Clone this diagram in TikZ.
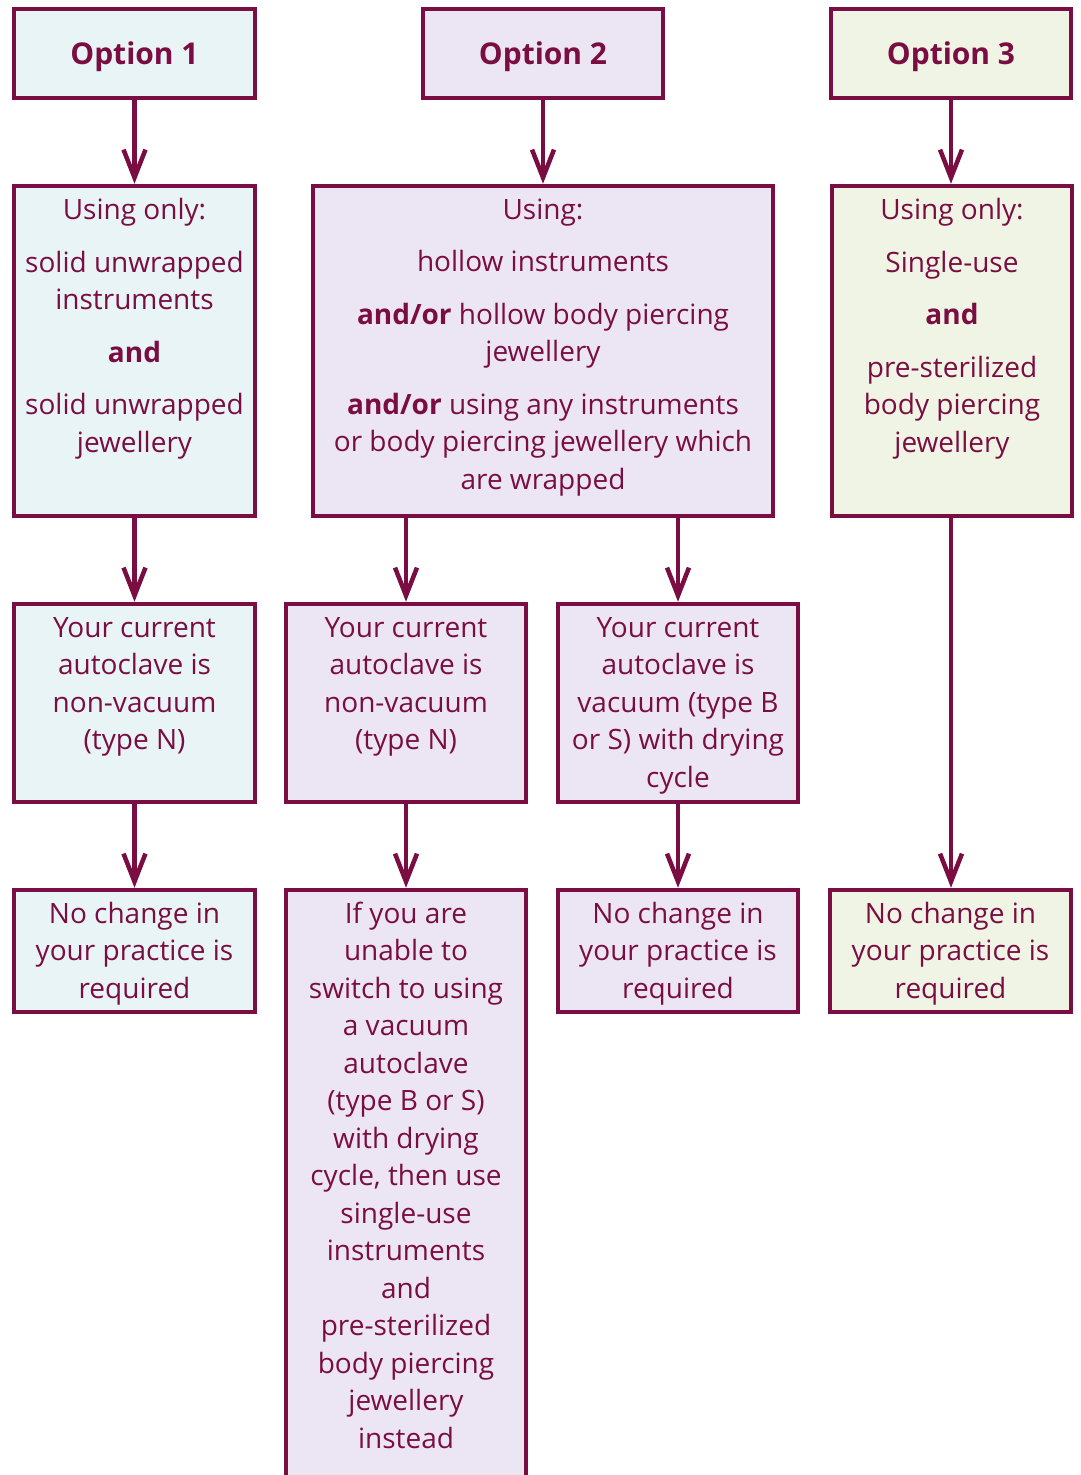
\documentclass[tikz,border=0pt]{standalone}
\usepackage{fontspec}
\setmainfont{Open Sans}
\usetikzlibrary{arrows.meta}
\definecolor{plum}{HTML}{7A0E42}
\definecolor{fillA}{HTML}{E8F4F6}
\definecolor{fillB}{HTML}{ECE6F4}
\definecolor{fillC}{HTML}{F0F4E4}
\tikzset{
  bx/.style={draw=plum, line width=4.5pt, inner sep=0pt},
  txt/.style={text=plum, align=center, inner sep=0pt, anchor=north, font=\fontsize{28}{37.5}\selectfont},
  ttl/.style={text=plum, anchor=center, font=\fontsize{30}{34}\selectfont\bfseries},
  arr/.style={draw=plum, line width=4.5pt, -{Straight Barb[length=28pt,width=22pt,line width=4.5pt]}}
}
\begin{document}
\begin{tikzpicture}[x=1pt,y=-1pt]
\useasboundingbox (0,0) rectangle (1080,1475);
\clip (0,0) rectangle (1080,1475);
\fill[white] (0,0) rectangle (1080,1475);
% top row
\node[bx, fill=fillA, minimum width=241pt, minimum height=89pt] (o1) at (134.5,53.5) {};
\node[bx, fill=fillB, minimum width=240pt, minimum height=89pt] (o2) at (543,53.5) {};
\node[bx, fill=fillC, minimum width=240pt, minimum height=89pt] (o3) at (951,53.5) {};
\node[ttl] (l1) at ([yshift=-3pt]o1.center) {Option 1};
\node[ttl] (l2) at ([yshift=-3pt]o2.center) {Option 2};
\node[ttl] (l3) at ([yshift=-3pt]o3.center) {Option 3};
% second row
\node[bx, fill=fillA, minimum width=241pt, minimum height=330pt] (r21) at (134.5,351) {};
\node[bx, fill=fillB, minimum width=460pt, minimum height=330pt] (r22) at (543,351) {};
\node[bx, fill=fillC, minimum width=240pt, minimum height=330pt] (r23) at (952,351) {};
% third row
\node[bx, fill=fillA, minimum width=241pt, minimum height=198pt] (r31) at (134.5,703) {};
\node[bx, fill=fillB, minimum width=240pt, minimum height=198pt] (r32) at (406,703) {};
\node[bx, fill=fillB, minimum width=240pt, minimum height=198pt] (r33) at (678,703) {};
% fourth row
\node[bx, fill=fillA, minimum width=241pt, minimum height=122pt] (r41) at (134.5,951) {};
\node[bx, fill=fillB, minimum width=240pt, minimum height=600pt] (r42) at (406,1190) {};
\node[bx, fill=fillB, minimum width=240pt, minimum height=122pt] (r43) at (678,951) {};
\node[bx, fill=fillC, minimum width=241pt, minimum height=122pt] (r44) at (950.5,951) {};
% texts
\node[txt] (t21) at ([yshift=-14.5pt]r21.north) {Using only:\\[15pt]solid unwrapped\\instruments\\[15pt]\textbf{and}\\[15pt]solid unwrapped\\jewellery};
\node[txt] (t22) at ([yshift=-14.5pt]r22.north) {Using:\\[15pt]hollow instruments\\[15pt]\textbf{and/or} hollow body piercing\\jewellery\\[15pt]\textbf{and/or} using any instruments\\or body piercing jewellery which\\are wrapped};
\node[txt] (t23) at ([yshift=-14.5pt]r23.north) {Using only:\\[15pt]Single-use\\[15pt]\textbf{and}\\[15pt]pre-sterilized\\body piercing\\jewellery};
\node[txt] (t31) at ([yshift=-15.5pt]r31.north) {Your current\\autoclave is\\non-vacuum\\(type N)};
\node[txt] (t32) at ([yshift=-15.5pt]r32.north) {Your current\\autoclave is\\non-vacuum\\(type N)};
\node[txt] (t33) at ([yshift=-15.5pt]r33.north) {Your current\\autoclave is\\vacuum (type B\\or S) with drying\\cycle};
\node[txt] (t41) at ([yshift=-14pt]r41.north) {No change in\\your practice is\\required};
\node[txt] (t42) at ([yshift=-14pt]r42.north) {If you are\\unable to\\switch to using\\a vacuum\\autoclave\\(type B or S)\\with drying\\cycle, then use\\single-use\\instruments\\and\\pre-sterilized\\body piercing\\jewellery\\instead};
\node[txt] (t43) at ([yshift=-14pt]r43.north) {No change in\\your practice is\\required};
\node[txt] (t44) at ([yshift=-14pt]r44.north) {No change in\\your practice is\\required};
% arrows
\draw[arr] (o1.south) -- (r21.north);
\draw[arr] (o2.south) -- (r22.north);
\draw[arr] (o3.south) -- (o3.south |- r23.north);
\draw[arr] (r21.south) -- (r31.north);
\draw[arr] (r22.south -| r32.north) -- (r32.north);
\draw[arr] (r22.south -| r33.north) -- (r33.north);
\draw[arr] (r31.south) -- (r41.north);
\draw[arr] (r32.south) -- (r42.north);
\draw[arr] (r33.south) -- (r43.north);
\draw[arr] ([xshift=-1pt]r23.south) -- ([xshift=-1pt]r23.south |- r44.north);
\end{tikzpicture}
\end{document}
